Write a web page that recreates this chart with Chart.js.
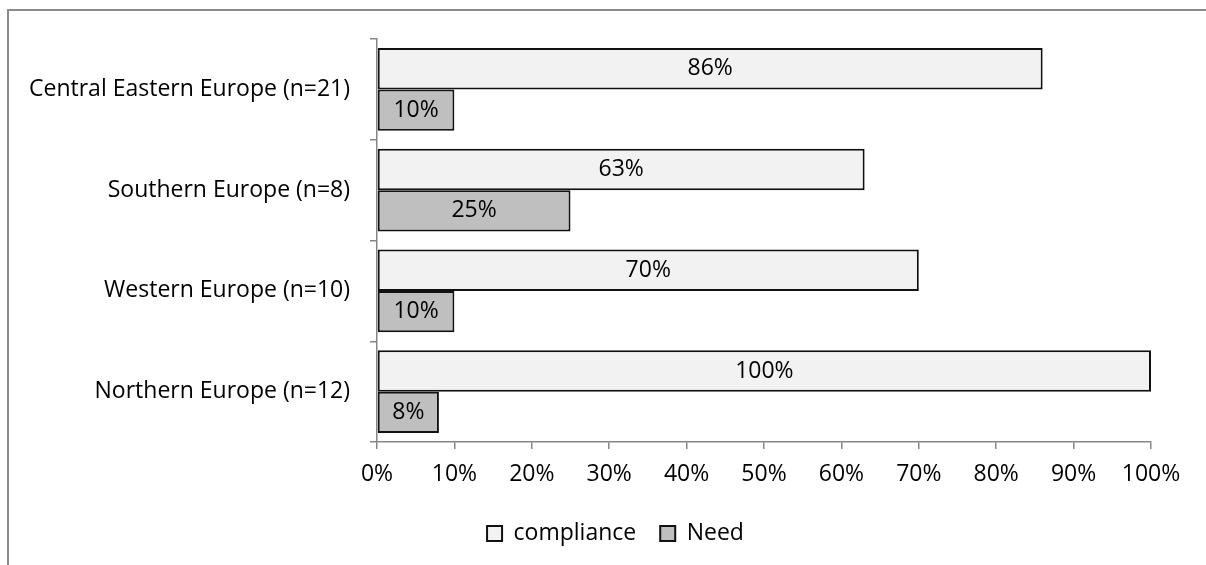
<!DOCTYPE html>
<html>
<head>
<meta charset="utf-8">
<script src="https://cdn.jsdelivr.net/npm/chart.js@4/dist/chart.umd.min.js"></script>
<style>
  html, body { margin: 0; padding: 0; background: #ffffff; }
  #wrap { width: 1206px; height: 565px; position: relative; }
</style>
</head>
<body>
<div id="wrap"><canvas id="c" width="1206" height="565"></canvas></div>
<script>
// Regions surveyed and the share (%) per series
const regions = [
  'Central Eastern Europe (n=21)',
  'Southern Europe (n=8)',
  'Western Europe (n=10)',
  'Northern Europe (n=12)'
];
const compliance = [86, 63, 70, 100];
const need = [10, 25, 10, 8];
const seriesNames = ['compliance', 'Need'];

const FONT = '"Open Sans", "Noto Sans", sans-serif';
const FONT_SIZE = 23;
const AXIS_GRAY = '#868686';

// Frame line along the top and left edges of the canvas
const framePlugin = {
  id: 'frame',
  beforeDraw(chart) {
    const ctx = chart.ctx;
    ctx.save();
    ctx.strokeStyle = '#8c8c8c';
    ctx.lineWidth = 2;
    ctx.beginPath();
    ctx.moveTo(8, 565);
    ctx.lineTo(8, 10);
    ctx.lineTo(1206, 10);
    ctx.stroke();
    ctx.restore();
  }
};

// Centre the legend under the whole canvas rather than the padded box
const legendShift = {
  id: 'legendShift',
  afterLayout(chart) {
    const lg = chart.legend;
    if (!lg) return;
    const d = 40;
    lg.left += d;
    lg.right += d;
  }
};

// Value labels centred inside each bar
const valueLabels = {
  id: 'valueLabels',
  afterDatasetsDraw(chart) {
    const ctx = chart.ctx;
    ctx.save();
    ctx.font = FONT_SIZE + 'px ' + FONT;
    ctx.fillStyle = '#000000';
    ctx.textAlign = 'center';
    ctx.textBaseline = 'middle';
    chart.data.datasets.forEach((ds, i) => {
      const meta = chart.getDatasetMeta(i);
      meta.data.forEach((bar, j) => {
        const p = bar.getProps(['x', 'y', 'base'], true);
        ctx.fillText(ds.data[j] + '%', (p.x + p.base) / 2, p.y);
      });
    });
    ctx.restore();
  }
};

new Chart(document.getElementById('c'), {
  type: 'bar',
  data: {
    labels: regions,
    datasets: [
      {
        label: seriesNames[0],
        data: compliance,
        backgroundColor: '#f2f2f2',
        borderColor: '#111111',
        borderWidth: 2,
        borderSkipped: false,
        categoryPercentage: 0.82,
        barPercentage: 1.0
      },
      {
        label: seriesNames[1],
        data: need,
        backgroundColor: '#bfbfbf',
        borderColor: '#111111',
        borderWidth: 2,
        borderSkipped: false,
        categoryPercentage: 0.82,
        barPercentage: 1.0
      }
    ]
  },
  options: {
    indexAxis: 'y',
    responsive: false,
    animation: false,
    devicePixelRatio: 1,
    layout: { padding: { left: 0, right: 55, top: 39, bottom: 10 } },
    plugins: {
      legend: {
        position: 'bottom',
        labels: {
          font: { family: FONT, size: FONT_SIZE },
          color: '#000000',
          boxWidth: 15,
          boxHeight: 15,
          padding: 24
        }
      },
      tooltip: { enabled: false }
    },
    scales: {
      x: {
        min: 0,
        max: 100,
        ticks: {
          stepSize: 10,
          callback: v => v + '%',
          font: { family: FONT, size: FONT_SIZE },
          color: '#000000',
          padding: 12,
          maxRotation: 0
        },
        grid: {
          drawOnChartArea: false,
          tickLength: 7,
          color: AXIS_GRAY,
          lineWidth: 1.5
        },
        border: { color: AXIS_GRAY, width: 1.5 },
        afterFit(scale) { scale.height = 56; }
      },
      y: {
        ticks: {
          font: { family: FONT, size: FONT_SIZE },
          color: '#000000',
          padding: 20
        },
        grid: {
          drawOnChartArea: false,
          offset: true,
          tickLength: 7,
          color: AXIS_GRAY,
          lineWidth: 1.5
        },
        border: { color: AXIS_GRAY, width: 1.5 },
        afterFit(scale) { scale.width = 377; }
      }
    }
  },
  plugins: [framePlugin, legendShift, valueLabels]
});
</script>
</body>
</html>
